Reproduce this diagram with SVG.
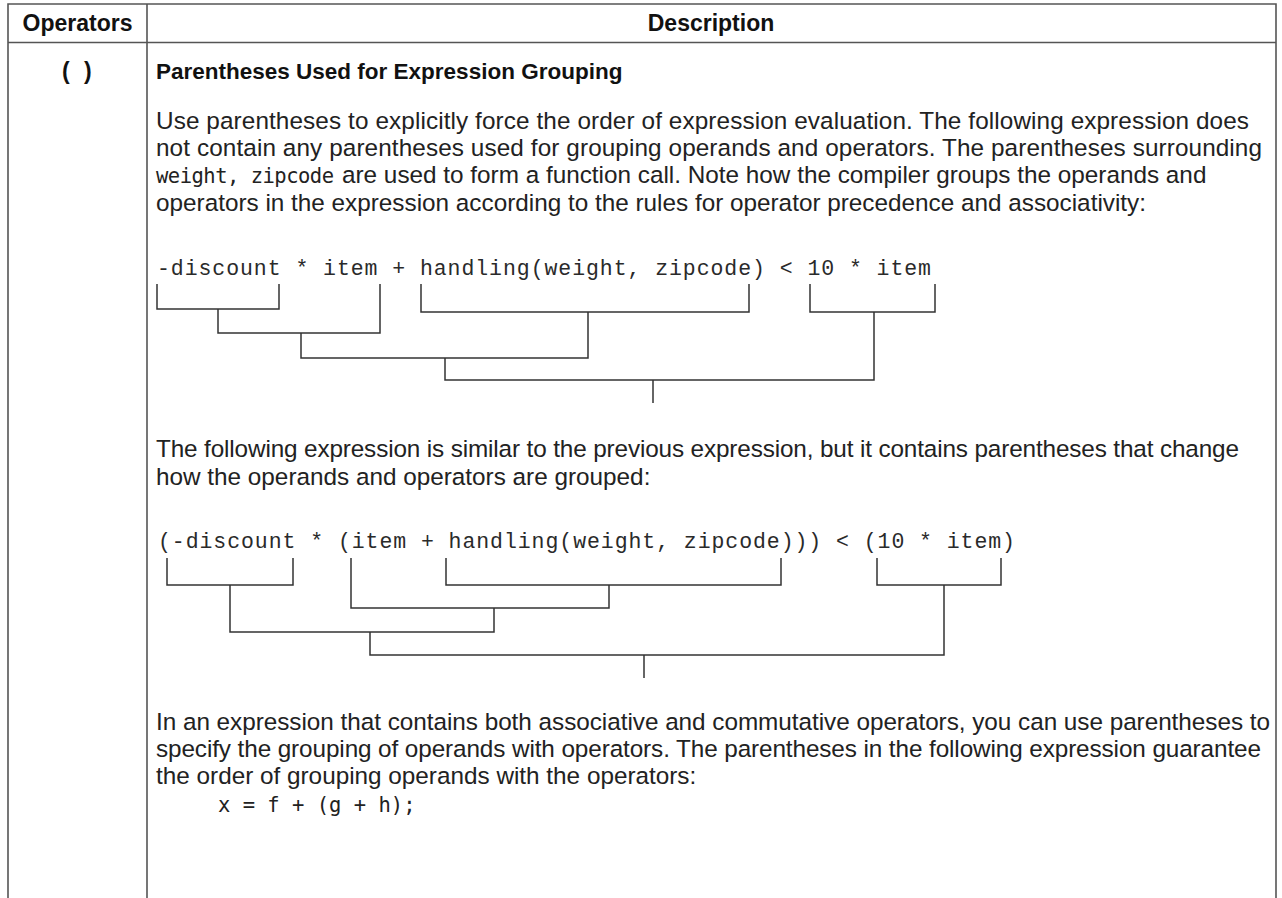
<svg xmlns="http://www.w3.org/2000/svg" width="1282" height="898" viewBox="0 0 1282 898">
<style>
.grid{stroke:#555;stroke-width:1.6;fill:none}
.hd{font-family:"Liberation Sans",Arial,sans-serif;font-weight:bold;font-size:23px;fill:#111}
.tt{font-family:"Liberation Sans",Arial,sans-serif;font-weight:bold;font-size:22.5px;fill:#111}
.body{font-family:"Liberation Sans",Arial,sans-serif;font-size:24.3px;fill:#222}
.mono{font-family:"DejaVu Sans Mono",monospace;font-size:20.5px;fill:#222}
.code{font-family:"Liberation Mono","Courier New",monospace;font-size:21.5px;fill:#2a2a2a}
.br{stroke:#333;stroke-width:1.5;fill:none}
</style>
<rect width="1282" height="898" fill="#fff"/>
<g id="table">
<path class="grid" d="M8,898 V4 H1276 V898 M8,42.5 H1276 M147,4 V898"/>
</g>
<g id="header">
<text class="hd" x="77.5" y="31" text-anchor="middle">Operators</text>
<text class="hd" x="711" y="31" text-anchor="middle">Description</text>
</g>
<g id="operator">
<text class="hd" x="62" y="79">(<tspan x="84">)</tspan></text>
</g>
<g id="description">
<text class="tt" x="156" y="79">Parentheses Used for Expression Grouping</text>
<text class="body" x="156" y="129" textLength="1093" lengthAdjust="spacing">Use parentheses to explicitly force the order of expression evaluation. The following expression does</text>
<text class="body" x="156" y="156" textLength="1106" lengthAdjust="spacing">not contain any parentheses used for grouping operands and operators. The parentheses surrounding</text>
<text class="mono" x="156" y="183" textLength="178" lengthAdjust="spacing">weight, zipcode</text>
<text class="body" x="342" y="183">are used to form a function call. Note how the compiler groups the operands and</text>
<text class="body" x="156" y="211">operators in the expression according to the rules for operator precedence and associativity:</text>
<text class="code" x="157" y="275" textLength="774" lengthAdjust="spacing">-discount * item + handling(weight, zipcode) &lt; 10 * item</text>
<text class="body" x="156" y="457" textLength="1083" lengthAdjust="spacing">The following expression is similar to the previous expression, but it contains parentheses that change</text>
<text class="body" x="156" y="485">how the operands and operators are grouped:</text>
<text class="code" x="158" y="548" textLength="857" lengthAdjust="spacing">(-discount * (item + handling(weight, zipcode))) &lt; (10 * item)</text>
<text class="body" x="156" y="730" textLength="1114" lengthAdjust="spacing">In an expression that contains both associative and commutative operators, you can use parentheses to</text>
<text class="body" x="156" y="757" textLength="1105" lengthAdjust="spacing">specify the grouping of operands with operators. The parentheses in the following expression guarantee</text>
<text class="body" x="156" y="784">the order of grouping operands with the operators:</text>
<text class="mono" x="218" y="812">x = f + (g + h);</text>
</g>
<g id="connectors">
<path class="br" d="M157,284 V309 H279 V284"/>
<path class="br" d="M218,309 V333 H380 V284"/>
<path class="br" d="M301,333 V358 H588 V312"/>
<path class="br" d="M421,284 V312 H749 V284"/>
<path class="br" d="M810,284 V312 H935 V284"/>
<path class="br" d="M874,312 V380 H445 V358"/>
<path class="br" d="M653,380 V403"/>
<path class="br" d="M167,558 V585 H293 V558"/>
<path class="br" d="M446,558 V585 H781 V558"/>
<path class="br" d="M609,585 V608 H351 V558"/>
<path class="br" d="M230,585 V632 H494 V608"/>
<path class="br" d="M877,558 V585 H1001 V558"/>
<path class="br" d="M944,585 V655 H370 V632"/>
<path class="br" d="M644,655 V678"/>
</g>
</svg>
